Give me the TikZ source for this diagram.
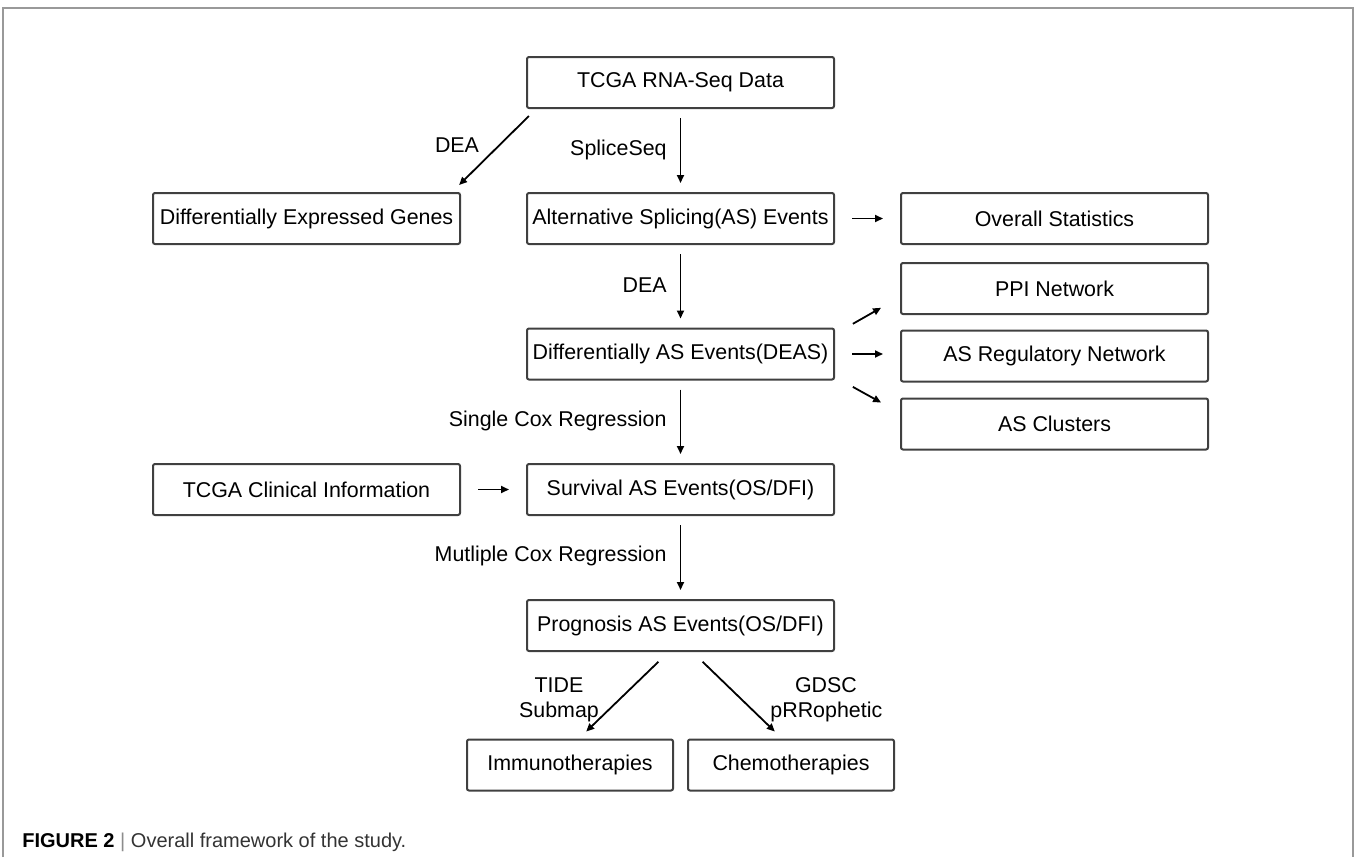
\documentclass[tikz,border=0pt]{standalone}
\usepackage{fontspec}
\setmainfont{Liberation Sans}
\usetikzlibrary{arrows.meta}

\tikzset{
  boks/.style={draw=black!75, line width=1pt, rounded corners=1pt,
    minimum width=153.5pt, minimum height=25.5pt, inner sep=0pt,
    font=\fontsize{10.7}{12}\selectfont},
  liten/.style={boks, minimum width=103pt},
  pil/.style={-{Triangle[length=4pt,width=3.5pt]}, line width=0.9pt,
    shorten <=4.5pt, shorten >=4.5pt},
  tekst/.style={font=\fontsize{10.7}{12}\selectfont, inner sep=0pt}
}

\begin{document}
\begin{tikzpicture}[x=0.5pt,y=-0.5pt]
  \useasboundingbox (0,0) rectangle (1354,857);
  %ramme
  	\draw[black!40, line width=0.6pt] (3,857)--(3,8)--(1353,8)--(1353,857);

%Bokser
    \node[boks] (rna) at (680.5,82.5) {TCGA RNA-Seq Data};
    \node[boks] (deg) at (306.5,218.5) {Differentially Expressed Genes};
    \node[boks] (as) at (680.5,218.5) {Alternative Splicing(AS) Events};
    \node[boks] (stat) at (1054.5,218.5) {Overall Statistics};
    \node[boks] (ppi) at (1054.5,288.5) {PPI Network};
    \node[boks] (deas) at (680.5,354) {Differentially AS Events(DEAS)};
    \node[boks] (reg) at (1054.5,356) {AS Regulatory Network};
    \node[boks] (klynge) at (1054.5,424) {AS Clusters};
    \node[boks] (klin) at (306.5,489.5) {TCGA Clinical Information};
    \node[boks] (surv) at (680.5,489.5) {Survival AS Events(OS/DFI)};
    \node[boks] (prog) at (680.5,625.5) {Prognosis AS Events(OS/DFI)};
    \node[liten] (immun) at (570,765) {Immunotherapies};
    \node[liten] (kjemo) at (791,765) {Chemotherapies};

%Etiketter
    \node[tekst] (dea1) at (457,145) {DEA};
    \node[tekst, anchor=east] (splice) at (667,150) {SpliceSeq};
    \node[tekst, anchor=east] (dea2) at (667,285) {DEA};
    \node[tekst, anchor=east] (cox1) at (667,421) {Single Cox Regression};
    \node[tekst, anchor=east] (cox2) at (667,556) {Mutliple Cox Regression};
    \node[tekst] (tide) at (559,685) {TIDE};
    \node[tekst] (submap) at (559,712) {Submap};
    \node[tekst] (gdsc) at (826,685) {GDSC};
    \node[tekst, anchor=west] (prr) at (770,712) {pRRophetic};

%Piler
    \draw[pil] (rna) -- (as);
    \draw[pil] (as) -- (deas);
    \draw[pil] (deas) -- (surv);
    \draw[pil] (surv) -- (prog);
    \draw[pil, shorten <=5pt, shorten >=5pt] ([shift={(10,0)}]rna.south west) -- ([shift={(-9,0)}]deg.north east);
    \draw[pil, shorten <=8.5pt, shorten >=8.5pt] (as) -- (stat);
    \draw[pil, shorten <=8.5pt, shorten >=8.5pt] (klin) -- (surv);
    \draw[pil, shorten <=8.5pt, shorten >=8.5pt] (deas.east) -- (deas.east -| reg.west);
    \draw[pil, shorten <=10.3pt, shorten >=10.9pt] ([shift={(0,-20)}]deas.east) -- ([shift={(0,-18)}]ppi.south west);
    \draw[pil, shorten <=10.2pt, shorten >=10.8pt] ([shift={(0,23)}]deas.east) -- ([shift={(0,-11)}]klynge.west);
    \draw[pil, shorten <=7pt, shorten >=5pt] ([shift={(-12,0)}]prog.south) -- ([shift={(9,0)}]immun.north);
    \draw[pil, shorten <=7pt, shorten >=5pt] ([shift={(12,0)}]prog.south) -- ([shift={(-9,0)}]kjemo.north);

%Tekst
    \node[anchor=west, inner sep=0pt, font=\fontsize{10}{12}\selectfont] (fig) at (22,842)
      {\textbf{FIGURE 2} \textcolor{black!45}{|} \textcolor{black!80}{Overall framework of the study.}};
\end{tikzpicture}
\end{document}
